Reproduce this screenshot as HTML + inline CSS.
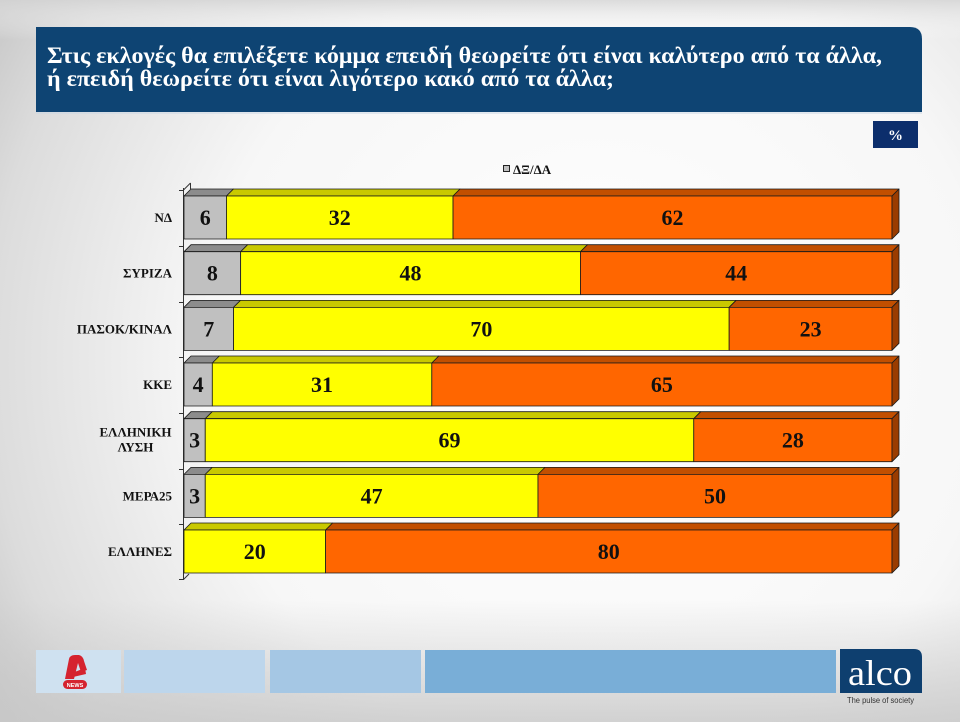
<!DOCTYPE html>
<html><head><meta charset="utf-8"><style>
html,body{margin:0;padding:0;width:960px;height:722px;overflow:hidden;background:#ddd}
svg{display:block}
</style></head><body>
<svg width="960" height="722" viewBox="0 0 960 722" xmlns="http://www.w3.org/2000/svg">
<defs>
<radialGradient id="bg" cx="600" cy="360" r="720" gradientUnits="userSpaceOnUse">
<stop offset="0" stop-color="#ffffff"/>
<stop offset="0.55" stop-color="#f7f7f7"/>
<stop offset="0.85" stop-color="#dcdcdc"/>
<stop offset="1" stop-color="#c2c2c2"/>
</radialGradient>
<linearGradient id="topfade" x1="0" y1="0" x2="0" y2="1">
<stop offset="0" stop-color="#d4d4d4" stop-opacity="0.8"/>
<stop offset="1" stop-color="#ffffff" stop-opacity="0"/>
</linearGradient>
<linearGradient id="botfade" x1="0" y1="0" x2="0" y2="1">
<stop offset="0" stop-color="#c8c8c8" stop-opacity="0"/>
<stop offset="1" stop-color="#c8c8c8" stop-opacity="0.8"/>
</linearGradient>
</defs>
<rect x="0" y="0" width="960" height="722" fill="url(#bg)"/>
<rect x="0" y="0" width="960" height="40" fill="url(#topfade)"/>
<rect x="0" y="600" width="960" height="122" fill="url(#botfade)"/>

<!-- Title box -->
<path d="M36 27 H910 Q922 27 922 39 V112 H36 Z" fill="#0e4473"/>
<line x1="36" y1="113" x2="922" y2="113" stroke="#c9d6e4" stroke-width="1"/>
<text x="47" y="63" font-family="'Liberation Serif',serif" font-weight="bold" font-size="23" fill="#fff" textLength="835" lengthAdjust="spacingAndGlyphs">Στις εκλογές θα επιλέξετε κόμμα επειδή θεωρείτε ότι είναι καλύτερο από τα άλλα,</text>
<text x="47" y="86" font-family="'Liberation Serif',serif" font-weight="bold" font-size="23" fill="#fff" textLength="567" lengthAdjust="spacingAndGlyphs">ή επειδή θεωρείτε ότι είναι λιγότερο κακό από τα άλλα;</text>

<!-- % box -->
<rect x="873" y="121" width="45" height="27" fill="#0c2e6c"/>
<text x="895.5" y="140" text-anchor="middle" font-family="'Liberation Serif',serif" font-weight="bold" font-size="15" fill="#fff">%</text>

<!-- Legend -->
<rect x="503.5" y="165.5" width="6" height="6" fill="#c0c0c0" stroke="#222" stroke-width="1"/>
<text x="513" y="174" font-family="'Liberation Serif',serif" font-weight="bold" font-size="13" fill="#111">ΔΞ/ΔΑ</text>

<!-- Axis -->
<g stroke="#333" stroke-width="1" fill="none">
<line x1="183.5" y1="188" x2="183.5" y2="580"/>
<line x1="183.5" y1="190" x2="190.5" y2="183"/>
<line x1="190.5" y1="183" x2="190.5" y2="189"/>
<line x1="179" y1="190.5" x2="183.5" y2="190.5"/>
<line x1="179" y1="246.5" x2="183.5" y2="246.5"/>
<line x1="179" y1="302.5" x2="183.5" y2="302.5"/>
<line x1="179" y1="357.5" x2="183.5" y2="357.5"/>
<line x1="179" y1="413.5" x2="183.5" y2="413.5"/>
<line x1="179" y1="469.5" x2="183.5" y2="469.5"/>
<line x1="179" y1="524.5" x2="183.5" y2="524.5"/>
<line x1="179" y1="579.5" x2="183.5" y2="579.5"/>
<line x1="183.5" y1="579.5" x2="189" y2="574"/>
</g>

<g id="bars" stroke="#1a1a1a" stroke-width="0.8" stroke-linejoin="round"></g>
<g id="labels" font-family="'Liberation Serif',serif" font-weight="bold" fill="#111"></g>

<!-- Footer -->
<rect x="36" y="650" width="85" height="43" fill="#cfe1f0"/>
<rect x="124" y="650" width="141" height="43" fill="#bdd6ec"/>
<rect x="270" y="650" width="151" height="43" fill="#a5c7e4"/>
<rect x="425" y="650" width="411" height="43" fill="#79aed7"/>
<path d="M840 649 H914 Q922 649 922 657 V693 H840 Z" fill="#0e3f6f"/>
<text x="880" y="685" text-anchor="middle" font-family="'Liberation Serif',serif" font-size="36" fill="#fff" textLength="64" lengthAdjust="spacingAndGlyphs">alco</text>
<text x="880.5" y="703" text-anchor="middle" font-family="'Liberation Sans',sans-serif" font-size="8.5" fill="#333" textLength="67" lengthAdjust="spacingAndGlyphs">The pulse of society</text>
<!-- Alpha logo -->
<path d="M65 679 L69 659 Q70 655 75 655 L79 655 Q83 656 84 661 L87 670 L81 672 L78 663 L74 679 Z" fill="#d5232f"/>
<path d="M72 673 L85 668 L86 674 L73 677 Z" fill="#d5232f"/>
<rect x="63" y="680" width="24" height="9" rx="4.5" fill="#d5232f"/>
<text x="75" y="687" text-anchor="middle" font-family="'Liberation Sans',sans-serif" font-weight="bold" font-size="5.5" fill="#fff">NEWS</text>

<script>
(function(){
var ns="http://www.w3.org/2000/svg";
var data=[["ΝΔ",[6,32,62]],["ΣΥΡΙΖΑ",[8,48,44]],["ΠΑΣΟΚ/ΚΙΝΑΛ",[7,70,23]],["ΚΚΕ",[4,31,65]],["ΕΛΛΗΝΙΚΗ|ΛΥΣΗ",[3,69,28]],["ΜΕΡΑ25",[3,47,50]],["ΕΛΛΗΝΕΣ",[0,20,80]]];
var front=["#c0c0c0","#ffff00","#ff6600"],top=["#8c8c8c","#c9c900","#c24f00"],side="#9a3c00";
var g=document.getElementById("bars"),L=document.getElementById("labels");
var x0=184,sc=7.08,h=43,d=7;
function el(t,a,p){var e=document.createElementNS(ns,t);for(var k in a)e.setAttribute(k,a[k]);p.appendChild(e);return e;}
data.forEach(function(r,i){
 var y=196+55.67*i,x=x0;
 var vals=r[1];
 var last=-1;for(var j=0;j<3;j++)if(vals[j]>0)last=j;
 for(var j=0;j<3;j++){
  var v=vals[j];if(v<=0)continue;
  var xa=x,xb=x+v*sc;
  el("path",{d:"M"+xa+" "+y+" L"+(xa+d)+" "+(y-d)+" L"+(xb+d)+" "+(y-d)+" L"+xb+" "+y+" Z",fill:top[j]},g);
  el("rect",{x:xa,y:y,width:xb-xa,height:h,fill:front[j]},g);
  if(j==last){
   el("path",{d:"M"+xb+" "+y+" L"+(xb+d)+" "+(y-d)+" L"+(xb+d)+" "+(y+h-d)+" L"+xb+" "+(y+h)+" Z",fill:side},g);
  }
  var t=el("text",{x:(xa+xb)/2,y:y+h/2+7.5,"text-anchor":"middle","font-size":"22"},L);
  t.textContent=String(v);
  x=xb;
 }
 var cy=y+h/2;
 if(r[0].indexOf("|")>=0){
  var p=r[0].split("|");
  var t1=el("text",{x:135.5,y:cy-3.5,"text-anchor":"middle","font-size":"13"},L);t1.textContent=p[0];
  var t2=el("text",{x:135.5,y:cy+11.5,"text-anchor":"middle","font-size":"13"},L);t2.textContent=p[1];
 } else {
  var t=el("text",{x:172,y:cy+4.5,"text-anchor":"end","font-size":"13"},L);t.textContent=r[0];
 }
});
})();
</script>
</svg>
</body></html>
